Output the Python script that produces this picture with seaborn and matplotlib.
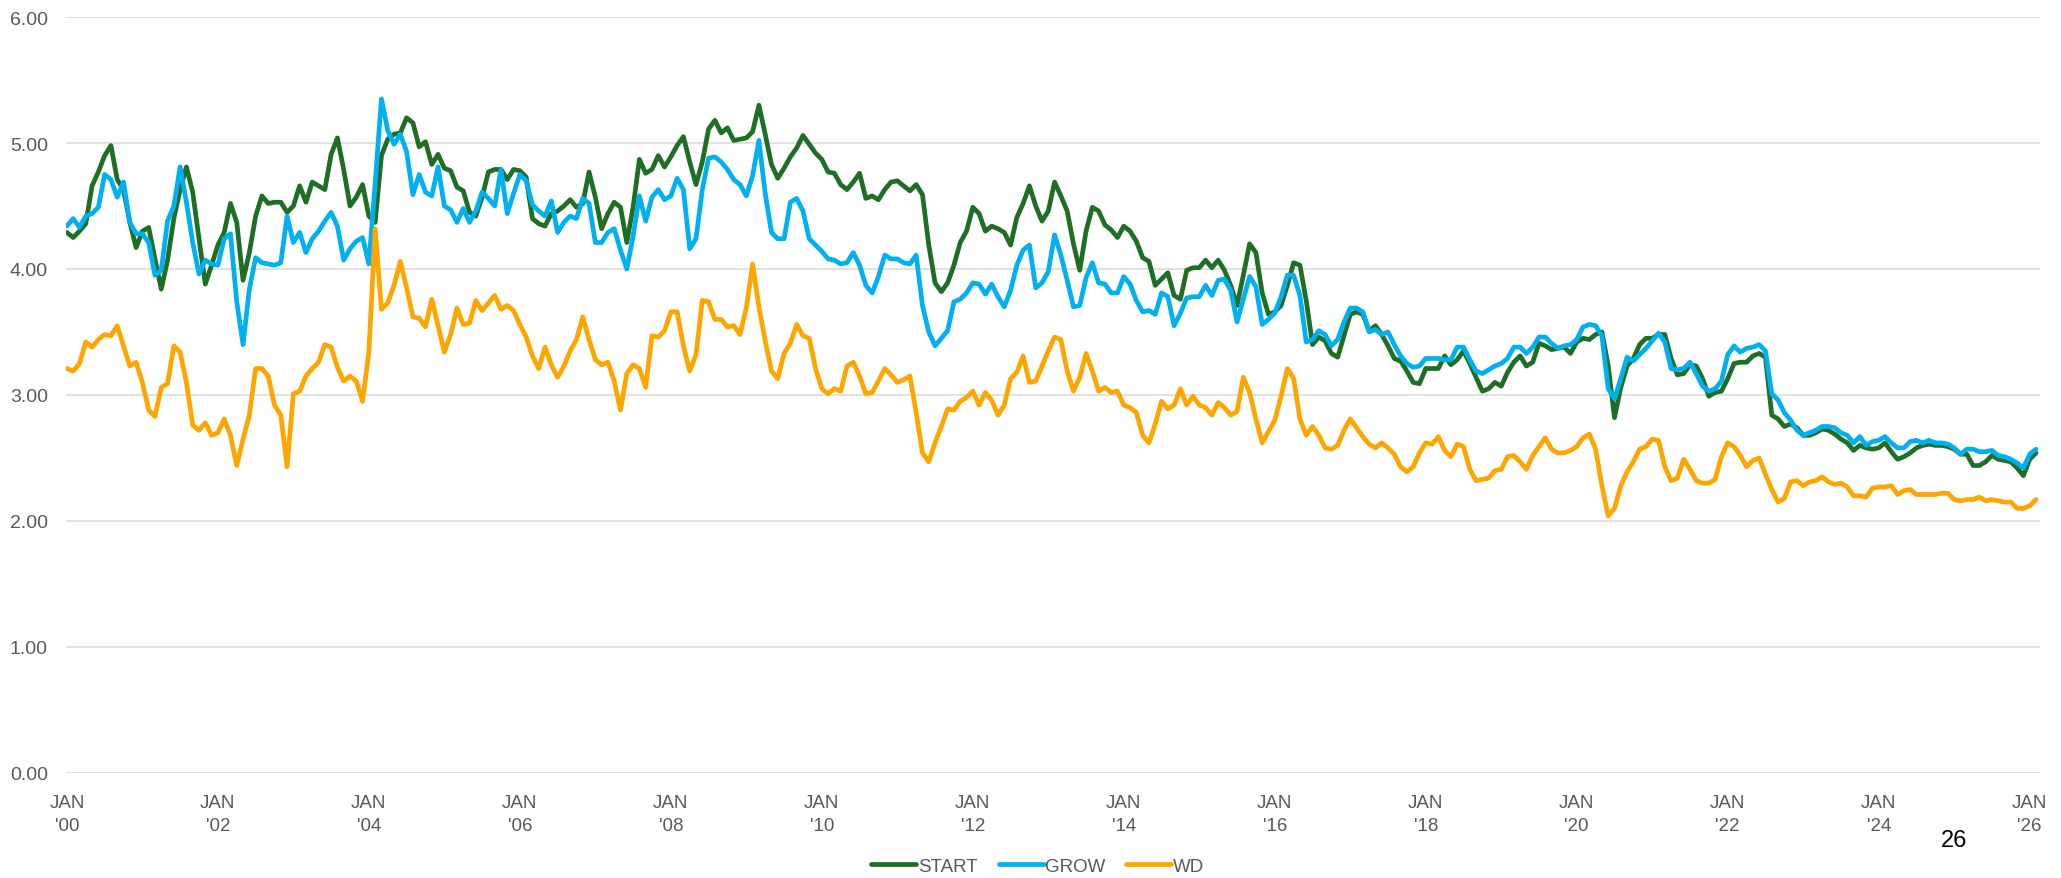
import numpy as np
import pandas as pd
import matplotlib
matplotlib.use("Agg")
import matplotlib.pyplot as plt
import seaborn as sns
from matplotlib import font_manager

# monthly values, Jan 2000 .. Feb 2026
start = [
    4.29, 4.25, 4.30, 4.36, 4.66, 4.77, 4.90, 4.98, 4.71, 4.63,
    4.37, 4.17, 4.30, 4.33, 4.08, 3.84, 4.07, 4.40, 4.63, 4.81,
    4.61, 4.24, 3.88, 4.03, 4.19, 4.29, 4.52, 4.37, 3.91, 4.13,
    4.42, 4.58, 4.52, 4.53, 4.53, 4.45, 4.50, 4.66, 4.53,
    4.69, 4.66, 4.63, 4.91, 5.04, 4.79, 4.50, 4.57, 4.67, 4.42,
    4.37, 4.90, 5.03, 5.07, 5.08, 5.20, 5.16, 4.97, 5.01, 4.83,
    4.91, 4.80, 4.78, 4.65, 4.62, 4.45, 4.42, 4.57, 4.77, 4.79,
    4.79, 4.71, 4.79, 4.78, 4.73, 4.40, 4.36, 4.34, 4.44,
    4.46, 4.50, 4.55, 4.49, 4.52, 4.77, 4.57, 4.32, 4.44, 4.53,
    4.49, 4.21, 4.49, 4.87, 4.76, 4.79, 4.90, 4.81, 4.89, 4.98,
    5.05, 4.85, 4.67, 4.85, 5.11, 5.18, 5.08, 5.12, 5.02, 5.03,
    5.04, 5.09, 5.30, 5.07, 4.83, 4.72, 4.80, 4.89, 4.96, 5.06,
    4.99, 4.92, 4.87, 4.77, 4.76, 4.67, 4.63, 4.69, 4.76, 4.56,
    4.58, 4.55, 4.63, 4.69, 4.70, 4.66, 4.62, 4.67, 4.59, 4.19,
    3.89, 3.82, 3.89, 4.03, 4.21, 4.30, 4.49, 4.44, 4.30, 4.34,
    4.32, 4.29, 4.19, 4.41, 4.52, 4.66, 4.50, 4.38, 4.46, 4.69,
    4.58, 4.46, 4.20, 3.99, 4.30, 4.49, 4.46, 4.35, 4.31, 4.25,
    4.34, 4.30, 4.22, 4.09, 4.06, 3.87, 3.92, 3.97, 3.79, 3.76,
    3.99, 4.01, 4.01, 4.07, 4.01, 4.07, 3.99, 3.87, 3.71, 3.95,
    4.20, 4.13, 3.81, 3.64, 3.66, 3.71, 3.87, 4.05, 4.03,
    3.75, 3.40, 3.46, 3.43, 3.33, 3.30, 3.47, 3.64, 3.66, 3.64,
    3.51, 3.55, 3.48, 3.39, 3.29, 3.27, 3.19, 3.10, 3.09, 3.21,
    3.21, 3.21, 3.31, 3.24, 3.28, 3.35, 3.25, 3.14, 3.03, 3.05,
    3.10, 3.07, 3.18, 3.26, 3.31, 3.23, 3.26, 3.41, 3.39, 3.36,
    3.37, 3.38, 3.33, 3.42, 3.45, 3.44, 3.48, 3.50, 3.23, 2.82,
    3.06, 3.23, 3.29, 3.40, 3.45, 3.45, 3.48, 3.48, 3.29, 3.16,
    3.17, 3.24, 3.23, 3.13, 2.99, 3.02, 3.03, 3.13, 3.25, 3.26,
    3.26, 3.31, 3.33, 3.30, 2.84, 2.81, 2.75,
    2.77, 2.74, 2.68, 2.68, 2.70, 2.73, 2.72, 2.69, 2.65, 2.62,
    2.56, 2.60, 2.58, 2.57, 2.58, 2.62, 2.55, 2.49, 2.51, 2.54,
    2.58, 2.60, 2.61, 2.60, 2.60, 2.59, 2.57, 2.53, 2.53, 2.44,
    2.44, 2.47, 2.52, 2.49, 2.48, 2.47, 2.42, 2.36, 2.49, 2.54,
]

grow = [
    4.34, 4.40, 4.33, 4.42, 4.44, 4.49, 4.75, 4.71, 4.57, 4.69,
    4.37, 4.28, 4.28, 4.21, 3.95, 3.99, 4.38, 4.50, 4.81, 4.53,
    4.21, 3.96, 4.07, 4.04, 4.03, 4.24, 4.28, 3.74, 3.40, 3.84,
    4.09, 4.05, 4.04, 4.03, 4.05, 4.42, 4.21, 4.29, 4.13,
    4.24, 4.30, 4.38, 4.45, 4.34, 4.07, 4.16, 4.22, 4.25, 4.04,
    4.68, 5.35, 5.10, 4.99, 5.07, 4.93, 4.59, 4.75, 4.61, 4.58,
    4.81, 4.50, 4.47, 4.37, 4.48, 4.37, 4.46, 4.61, 4.56, 4.50,
    4.79, 4.44, 4.60, 4.75, 4.70, 4.51, 4.46, 4.42, 4.54,
    4.29, 4.37, 4.42, 4.40, 4.56, 4.52, 4.21, 4.21, 4.29, 4.32,
    4.15, 4.00, 4.26, 4.58, 4.38, 4.57, 4.63, 4.55, 4.58, 4.72,
    4.63, 4.16, 4.24, 4.63, 4.88, 4.89, 4.85, 4.79, 4.71, 4.67,
    4.58, 4.74, 5.02, 4.60, 4.29, 4.24, 4.24, 4.53, 4.56, 4.46,
    4.24, 4.19, 4.14, 4.08, 4.07, 4.04, 4.05, 4.13, 4.03, 3.87,
    3.81, 3.94, 4.11, 4.08, 4.08, 4.05, 4.04, 4.11, 3.71, 3.50,
    3.39, 3.45, 3.51, 3.74, 3.76, 3.81, 3.89, 3.88, 3.80, 3.88,
    3.78, 3.70, 3.83, 4.03, 4.15, 4.19, 3.85, 3.89, 3.98, 4.27,
    4.11, 3.91, 3.70, 3.71, 3.93, 4.05, 3.89, 3.88, 3.81, 3.81,
    3.94, 3.88, 3.75, 3.66, 3.67, 3.64, 3.81, 3.78, 3.55, 3.65,
    3.77, 3.78, 3.78, 3.87, 3.79, 3.91, 3.92, 3.83, 3.58, 3.76,
    3.94, 3.86, 3.56, 3.60, 3.65, 3.78, 3.95, 3.95, 3.79,
    3.42, 3.44, 3.51, 3.48, 3.39, 3.44, 3.58, 3.69, 3.69, 3.66,
    3.50, 3.52, 3.48, 3.50, 3.40, 3.31, 3.25, 3.22, 3.23, 3.29,
    3.29, 3.29, 3.28, 3.28, 3.38, 3.38, 3.28, 3.19, 3.17, 3.20,
    3.23, 3.25, 3.29, 3.38, 3.38, 3.33, 3.38, 3.46, 3.46, 3.41,
    3.37, 3.39, 3.40, 3.44, 3.54, 3.56, 3.55, 3.47, 3.05, 2.97,
    3.13, 3.30, 3.27, 3.32, 3.37, 3.43, 3.49, 3.42, 3.21, 3.20,
    3.21, 3.26, 3.17, 3.07, 3.03, 3.05, 3.11, 3.32, 3.39, 3.34,
    3.37, 3.38, 3.40, 3.35, 3.01, 2.96, 2.86,
    2.80, 2.72, 2.68, 2.70, 2.72, 2.75, 2.75, 2.74, 2.70, 2.68,
    2.62, 2.67, 2.60, 2.63, 2.64, 2.67, 2.62, 2.58, 2.58, 2.63,
    2.64, 2.62, 2.64, 2.62, 2.62, 2.61, 2.58, 2.53, 2.57, 2.57,
    2.55, 2.55, 2.56, 2.52, 2.51, 2.49, 2.46, 2.42, 2.53, 2.57,
]

wd = [
    3.21, 3.19, 3.25, 3.42, 3.38, 3.44, 3.48, 3.47, 3.55, 3.39,
    3.23, 3.26, 3.10, 2.88, 2.83, 3.06, 3.09, 3.39, 3.34, 3.10,
    2.76, 2.72, 2.78, 2.68, 2.70, 2.81, 2.68, 2.44, 2.65, 2.84,
    3.21, 3.21, 3.15, 2.92, 2.84, 2.43, 3.01, 3.03, 3.15,
    3.21, 3.26, 3.40, 3.38, 3.22, 3.11, 3.15, 3.11, 2.95, 3.34,
    4.32, 3.68, 3.73, 3.87, 4.06, 3.85, 3.62, 3.61, 3.54, 3.76,
    3.55, 3.34, 3.48, 3.69, 3.56, 3.57, 3.75, 3.67, 3.73, 3.79,
    3.68, 3.71, 3.67, 3.56, 3.46, 3.31, 3.21, 3.38, 3.24,
    3.14, 3.23, 3.35, 3.44, 3.62, 3.44, 3.28, 3.24, 3.26, 3.11,
    2.88, 3.17, 3.24, 3.21, 3.06, 3.47, 3.46, 3.51, 3.66, 3.66,
    3.39, 3.19, 3.32, 3.75, 3.74, 3.60, 3.60, 3.54, 3.55, 3.48,
    3.69, 4.04, 3.70, 3.43, 3.19, 3.13, 3.33, 3.41, 3.56, 3.47,
    3.45, 3.21, 3.05, 3.01, 3.05, 3.03, 3.23, 3.26, 3.15, 3.01,
    3.02, 3.11, 3.21, 3.16, 3.10, 3.12, 3.15, 2.86, 2.54, 2.47,
    2.62, 2.75, 2.89, 2.88, 2.95, 2.98, 3.03, 2.92, 3.02, 2.96,
    2.84, 2.92, 3.13, 3.18, 3.31, 3.10, 3.11, 3.23, 3.35, 3.46,
    3.44, 3.19, 3.03, 3.14, 3.33, 3.19, 3.03, 3.06, 3.02, 3.03,
    2.92, 2.90, 2.86, 2.68, 2.62, 2.77, 2.95, 2.89, 2.92, 3.05,
    2.92, 2.99, 2.92, 2.90, 2.84, 2.94, 2.90, 2.84, 2.87, 3.14,
    3.02, 2.81, 2.62, 2.71, 2.80, 2.99, 3.21, 3.13, 2.81,
    2.68, 2.75, 2.68, 2.58, 2.57, 2.60, 2.72, 2.81, 2.74, 2.67,
    2.61, 2.58, 2.62, 2.58, 2.53, 2.43, 2.39, 2.43, 2.54, 2.62,
    2.61, 2.67, 2.56, 2.51, 2.61, 2.59, 2.41, 2.32, 2.33, 2.34,
    2.40, 2.41, 2.51, 2.52, 2.47, 2.41, 2.52, 2.59, 2.66, 2.57,
    2.54, 2.54, 2.56, 2.59, 2.66, 2.69, 2.57, 2.28, 2.04, 2.10,
    2.28, 2.39, 2.47, 2.57, 2.59, 2.65, 2.64, 2.43, 2.32, 2.34,
    2.49, 2.41, 2.32, 2.30, 2.30, 2.33, 2.51, 2.62, 2.59, 2.52,
    2.43, 2.48, 2.50, 2.37, 2.25, 2.15, 2.18,
    2.31, 2.32, 2.28, 2.31, 2.32, 2.35, 2.31, 2.29, 2.30, 2.27,
    2.20, 2.20, 2.19, 2.26, 2.27, 2.27, 2.28, 2.21, 2.24, 2.25,
    2.21, 2.21, 2.21, 2.21, 2.22, 2.22, 2.17, 2.16, 2.17, 2.17,
    2.19, 2.16, 2.17, 2.16, 2.15, 2.15, 2.10, 2.10, 2.12, 2.17,
]

series_names = ["START", "GROW", "WD"]
colors = ["#1E6E23", "#00B0F0", "#FFA500"]
tick_years = list(range(2000, 2027, 2))
tick_labels = ["JAN\n'%02d" % (y % 100) for y in tick_years]

months = np.arange(len(start))
df = pd.DataFrame({
    "month": np.concatenate([months, months, months]),
    "value": start + grow + wd,
    "series": ["START"] * len(start) + ["GROW"] * len(grow) + ["WD"] * len(wd),
})

names = {f.name for f in font_manager.fontManager.ttflist}
narrow = "Liberation Sans Narrow" if "Liberation Sans Narrow" in names else "Liberation Sans"

sns.set_theme(style="white")
plt.rcParams["font.family"] = ["Liberation Sans", "DejaVu Sans"]

fig = plt.figure(figsize=(20.61, 8.79), dpi=100)
ax = fig.add_axes([0.032, 0.1195, 0.958, 0.8600])

sns.lineplot(data=df, x="month", y="value", hue="series", hue_order=series_names,
             palette=colors, linewidth=3.4, ax=ax, legend=False)

ax.set_ylim(0, 6)
ax.set_xlim(-0.15, 313.7)
ax.set_yticks(np.arange(0, 6.01, 1))
ax.set_yticklabels(["%.2f" % v for v in np.arange(0, 6.01, 1)], color="#595959", fontsize=14)
ax.set_xticks([(y - 2000) * 12 for y in tick_years])
ax.set_xticklabels(tick_labels, color="#595959", fontsize=13.5, family=narrow, linespacing=1.5)
ax.tick_params(axis="y", length=0, pad=13)
ax.tick_params(axis="x", length=0, pad=15)
ax.grid(axis="y", color="#D9D9D9", linewidth=1.1)
ax.grid(axis="x", visible=False)
for s in ax.spines.values():
    s.set_visible(False)
ax.set_xlabel("")
ax.set_ylabel("")

handles = [plt.Line2D([], [], color=c, linewidth=3.4, solid_capstyle="round") for c in colors]
fig.legend(handles, series_names, loc="center", bbox_to_anchor=(1038 / 2061, 1 - 867 / 879),
           ncol=3, frameon=False, handlelength=2.4, handletextpad=0.1, columnspacing=1.1,
           prop={"family": narrow, "size": 13.5}, labelcolor="#595959")

fig.text(1954 / 2061, 1 - 841 / 879, "26", ha="center", va="center", fontsize=17, color="black")

fig.savefig("out.png", dpi=100)
